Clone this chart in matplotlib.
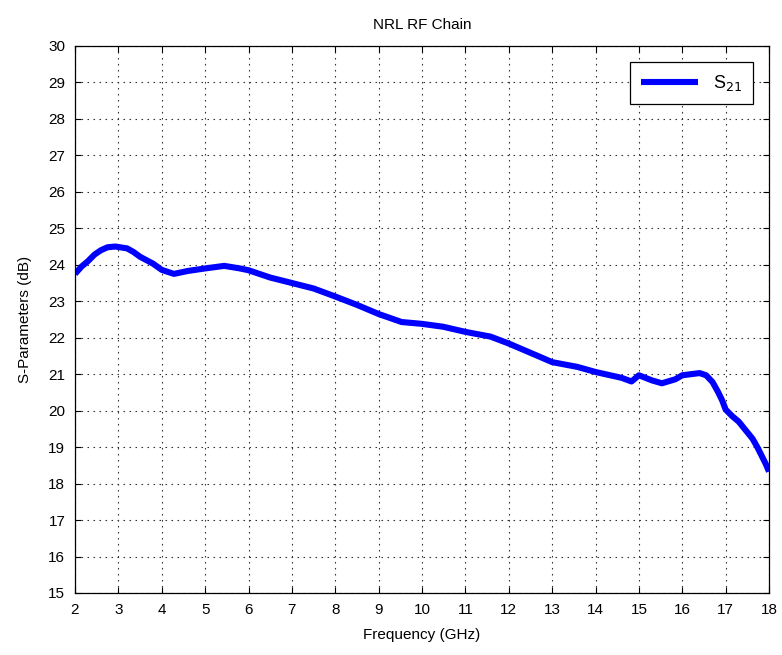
import numpy as np
import matplotlib.pyplot as plt

plt.rcParams['font.family'] = ['Liberation Sans', 'DejaVu Sans']

freq = [2.0, 2.15, 2.3, 2.45, 2.6, 2.75, 2.93, 3.2, 3.35, 3.5, 3.8, 4.0, 4.28,
        4.6, 5.0, 5.44, 5.8, 6.0, 6.5, 7.0, 7.5, 8.0, 8.5, 9.0, 9.53, 10.0,
        10.49, 11.0, 11.58, 12.0, 12.65, 13.0, 13.58, 14.0, 14.6, 14.83, 15.0,
        15.3, 15.53, 15.84, 16.0, 16.2, 16.4, 16.55, 16.7, 16.83, 16.92, 17.0,
        17.15, 17.3, 17.45, 17.62, 17.73, 17.84, 17.92, 18.0]
s21 = [23.75, 23.95, 24.1, 24.28, 24.4, 24.48, 24.5, 24.45, 24.35, 24.22,
       24.03, 23.86, 23.75, 23.83, 23.9, 23.97, 23.9, 23.85, 23.65, 23.5,
       23.35, 23.13, 22.9, 22.65, 22.43, 22.38, 22.3, 22.16, 22.03, 21.84,
       21.51, 21.33, 21.2, 21.06, 20.9, 20.8, 20.97, 20.83, 20.75, 20.86,
       20.97, 21.0, 21.03, 20.97, 20.78, 20.5, 20.28, 20.03, 19.85, 19.7,
       19.48, 19.23, 19.0, 18.74, 18.55, 18.33]

xticks = list(range(2, 19))
yticks = list(range(15, 31))

fig = plt.figure(figsize=(7.82, 6.55), dpi=100)
ax = fig.add_axes([0.0959, 0.0947, 0.8875, 0.8351])

ax.plot(freq, s21, color='#0000ff', linewidth=4.4, label='S$_{21}$',
        solid_joinstyle='round', solid_capstyle='butt')

ax.set_xlim(2, 18)
ax.set_ylim(15, 30)
ax.set_xticks(xticks)
ax.set_yticks(yticks)
ax.grid(True, color='#333333', linestyle=(0, (1.4, 4)), linewidth=0.8)
ax.tick_params(direction='in', top=True, right=True, length=4, width=0.8,
               labelsize=11, pad=7)
for sp in ax.spines.values():
    sp.set_linewidth(0.9)

ax.set_title('NRL RF Chain', fontsize=11, pad=12)
ax.set_xlabel('Frequency (GHz)', fontsize=11, labelpad=8)
ax.set_ylabel('S-Parameters (dB)', fontsize=11, labelpad=12)

leg = ax.legend(loc='upper right', fontsize=13, fancybox=False,
                edgecolor='black', framealpha=1, handlelength=3.2,
                borderaxespad=0.9, borderpad=0.6)
leg.get_frame().set_linewidth(0.9)

fig.savefig('out.png', dpi=100)
